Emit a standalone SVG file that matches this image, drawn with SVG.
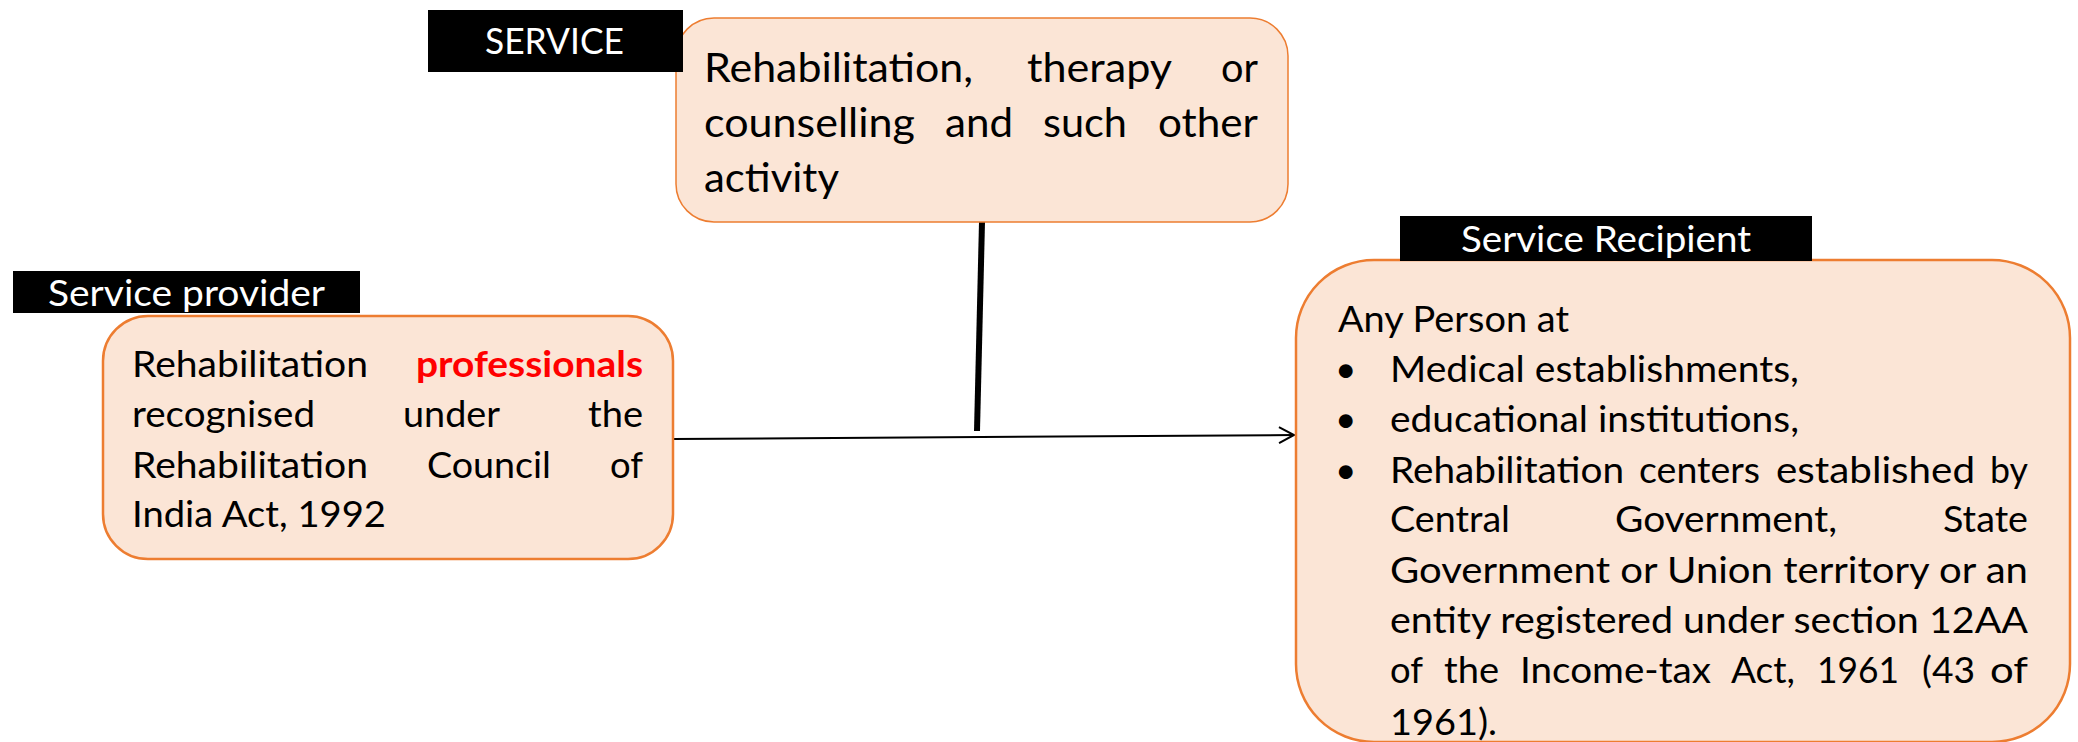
<svg xmlns="http://www.w3.org/2000/svg" width="2078" height="742" viewBox="0 0 2078 742">
  <style>
    .box { fill: #FBE5D6; stroke: #ED7D31; }
    .lbl { fill: #000000; }
    .t { font-family: Lato, "Liberation Sans", sans-serif; fill: #000000; }
    .w { font-family: Lato, "Liberation Sans", sans-serif; fill: #FFFFFF; font-size: 36px; }
    .s { font-size: 40.5px; }
    .p { font-size: 37px; }
    .red { fill: #FF0000; font-weight: bold; }
  </style>
  <defs>
    <marker id="arrow" markerUnits="userSpaceOnUse" markerWidth="20" markerHeight="20" refX="16" refY="9" orient="auto">
      <path d="M1,1 L16,9 L1,17" fill="none" stroke="#000000" stroke-width="2"/>
    </marker>
  </defs>

  <g id="connectors">
    <line x1="982" y1="222" x2="977" y2="431" stroke="#000000" stroke-width="6"/>
    <line x1="673" y1="439" x2="1294" y2="435" stroke="#000000" stroke-width="2" marker-end="url(#arrow)"/>
  </g>

  <g id="service">
    <rect class="box" x="676" y="18" width="612" height="204" rx="38" ry="38" stroke-width="1.5"/>
    <rect class="lbl" x="428" y="10" width="255" height="62"/>
    <text class="w" x="485" y="54" textLength="139" lengthAdjust="spacingAndGlyphs">SERVICE</text>
    <text class="t s" x="704" y="82" textLength="269" lengthAdjust="spacingAndGlyphs">Rehabilitation,</text>
    <text class="t s" x="1027" y="82" textLength="145" lengthAdjust="spacingAndGlyphs">therapy</text>
    <text class="t s" x="1221" y="82" textLength="37" lengthAdjust="spacingAndGlyphs">or</text>
    <text class="t s" x="704" y="137" textLength="211" lengthAdjust="spacingAndGlyphs">counselling</text>
    <text class="t s" x="945" y="137" textLength="68" lengthAdjust="spacingAndGlyphs">and</text>
    <text class="t s" x="1043" y="137" textLength="84" lengthAdjust="spacingAndGlyphs">such</text>
    <text class="t s" x="1158" y="137" textLength="100" lengthAdjust="spacingAndGlyphs">other</text>
    <text class="t s" x="704" y="192" textLength="135" lengthAdjust="spacingAndGlyphs">activity</text>
  </g>

  <g id="provider">
    <rect class="box" x="103" y="316" width="570" height="243" rx="45" ry="45" stroke-width="2.5"/>
    <rect class="lbl" x="13" y="271" width="347" height="42"/>
    <text class="w" x="48" y="306" textLength="277" lengthAdjust="spacingAndGlyphs">Service provider</text>
    <text class="t p" x="132" y="377" textLength="236" lengthAdjust="spacingAndGlyphs">Rehabilitation</text>
    <text class="t p red" x="416" y="377" textLength="227" lengthAdjust="spacingAndGlyphs">professionals</text>
    <text class="t p" x="132" y="427" textLength="183" lengthAdjust="spacingAndGlyphs">recognised</text>
    <text class="t p" x="403" y="427" textLength="97" lengthAdjust="spacingAndGlyphs">under</text>
    <text class="t p" x="588" y="427" textLength="55" lengthAdjust="spacingAndGlyphs">the</text>
    <text class="t p" x="132" y="478" textLength="236" lengthAdjust="spacingAndGlyphs">Rehabilitation</text>
    <text class="t p" x="427" y="478" textLength="124" lengthAdjust="spacingAndGlyphs">Council</text>
    <text class="t p" x="610" y="478" textLength="33" lengthAdjust="spacingAndGlyphs">of</text>
    <text class="t p" x="132" y="527" textLength="254" lengthAdjust="spacingAndGlyphs">India Act, 1992</text>
  </g>

  <g id="recipient">
    <rect class="box" x="1296" y="260" width="774" height="482" rx="78" ry="78" stroke-width="2.5"/>
    <rect class="lbl" x="1400" y="216" width="412" height="45"/>
    <text class="w" x="1461" y="252" textLength="290" lengthAdjust="spacingAndGlyphs">Service Recipient</text>
    <text class="t p" x="1338" y="332" textLength="231" lengthAdjust="spacingAndGlyphs">Any Person at</text>
    <text class="t p" x="1335" y="382">•</text>
    <text class="t p" x="1390" y="382" textLength="409" lengthAdjust="spacingAndGlyphs">Medical establishments,</text>
    <text class="t p" x="1335" y="432">•</text>
    <text class="t p" x="1390" y="432" textLength="409" lengthAdjust="spacingAndGlyphs">educational institutions,</text>
    <text class="t p" x="1335" y="483">•</text>
    <text class="t p" x="1390" y="483" textLength="234" lengthAdjust="spacingAndGlyphs">Rehabilitation</text>
    <text class="t p" x="1639" y="483" textLength="121" lengthAdjust="spacingAndGlyphs">centers</text>
    <text class="t p" x="1776" y="483" textLength="199" lengthAdjust="spacingAndGlyphs">established</text>
    <text class="t p" x="1990" y="483" textLength="38" lengthAdjust="spacingAndGlyphs">by</text>
    <text class="t p" x="1390" y="532" textLength="120" lengthAdjust="spacingAndGlyphs">Central</text>
    <text class="t p" x="1615" y="532" textLength="222" lengthAdjust="spacingAndGlyphs">Government,</text>
    <text class="t p" x="1943" y="532" textLength="85" lengthAdjust="spacingAndGlyphs">State</text>
    <text class="t p" x="1390" y="583" textLength="638" lengthAdjust="spacingAndGlyphs">Government or Union territory or an</text>
    <text class="t p" x="1390" y="633" textLength="638" lengthAdjust="spacingAndGlyphs">entity registered under section 12AA</text>
    <text class="t p" x="1390" y="683" textLength="33" lengthAdjust="spacingAndGlyphs">of</text>
    <text class="t p" x="1444" y="683" textLength="55" lengthAdjust="spacingAndGlyphs">the</text>
    <text class="t p" x="1520" y="683" textLength="191" lengthAdjust="spacingAndGlyphs">Income-tax</text>
    <text class="t p" x="1731" y="683" textLength="64" lengthAdjust="spacingAndGlyphs">Act,</text>
    <text class="t p" x="1817" y="683" textLength="82" lengthAdjust="spacingAndGlyphs">1961</text>
    <text class="t p" x="1922" y="683" textLength="53" lengthAdjust="spacingAndGlyphs">(43</text>
    <text class="t p" x="1990" y="683" textLength="38" lengthAdjust="spacingAndGlyphs">of</text>
    <text class="t p" x="1390" y="735" textLength="107" lengthAdjust="spacingAndGlyphs">1961).</text>
  </g>
</svg>
